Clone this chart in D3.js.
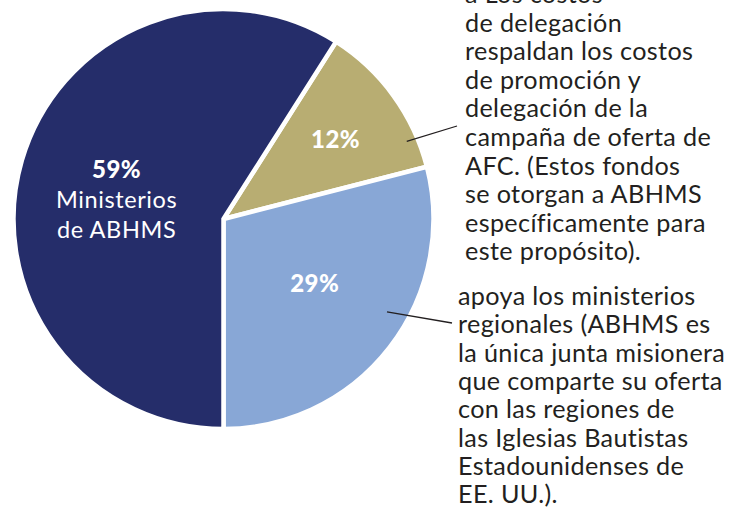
<!DOCTYPE html>
<html>
<head>
<meta charset="utf-8">
<script src="https://cdn.jsdelivr.net/npm/d3@7"></script>
<style>
  html, body { margin: 0; padding: 0; background: #fff; }
  svg { display: block; font-family: Lato, "Noto Sans", sans-serif; }
</style>
</head>
<body>
<div id="chart"></div>
<script>
// Slice data, clockwise from the tan slice
const sliceNames = ['promocion', 'regiones', 'ministerios'];
const sliceValues = [12, 29, 59];
const sliceColors = ['#b8ad72', '#88a7d6', '#252d6a'];
const sliceLabels = ['12%', '29%', '59%'];
const sliceSubLabels = [[], [], ['Ministerios', 'de ABHMS']];

// Callout text
const noteTop = [
  'a Los costos',
  'de delegación',
  'respaldan los costos',
  'de promoción y',
  'delegación de la',
  'campaña de oferta de',
  'AFC. (Estos fondos',
  'se otorgan a ABHMS',
  'específicamente para',
  'este propósito).'
];
const noteBottom = [
  'apoya los ministerios',
  'regionales (ABHMS es',
  'la única junta misionera',
  'que comparte su oferta',
  'con las regiones de',
  'las Iglesias Bautistas',
  'Estadounidenses de',
  'EE. UU.).'
];

const width = 742, height = 508;
const cx = 223.5, cy = 219, radius = 210;

const svg = d3.select('#chart').append('svg')
  .attr('width', width)
  .attr('height', height);

svg.append('rect').attr('width', width).attr('height', height).attr('fill', '#fff');

// blue slice ends straight down, so start is offset by the first two shares
const total = d3.sum(sliceValues);
const start = Math.PI - 2 * Math.PI * (sliceValues[0] + sliceValues[1]) / total;

const pie = d3.pie()
  .sort(null)
  .startAngle(start)
  .endAngle(start + 2 * Math.PI);

const arcs = pie(sliceValues);
const arc = d3.arc().innerRadius(0).outerRadius(radius);

const g = svg.append('g').attr('transform', `translate(${cx},${cy})`);

g.selectAll('path.slice')
  .data(arcs)
  .join('path')
  .attr('class', 'slice')
  .attr('d', arc)
  .attr('fill', (d, i) => sliceColors[i])
  .attr('stroke', '#fff')
  .attr('stroke-width', 4.5)
  .attr('stroke-linejoin', 'miter');

// label radius as a share of the pie radius, per slice
const labelFactor = [0.66, 0.55, 0.53];
const labelShift = [2, -6, -18];

arcs.forEach((d, i) => {
  const mid = (d.startAngle + d.endAngle) / 2;
  const [lx, ly] = d3.pointRadial(mid, radius * labelFactor[i]);
  const t = g.append('text')
    .attr('x', lx)
    .attr('y', ly + labelShift[i])
    .attr('text-anchor', 'middle')
    .attr('fill', '#fff');
  t.append('tspan')
    .attr('x', lx)
    .attr('dy', '0.35em')
    .attr('font-weight', 900)
    .attr('font-size', 24)
    .attr('letter-spacing', 0.5)
    .text(sliceLabels[i]);
  sliceSubLabels[i].forEach(s => {
    t.append('tspan')
      .attr('x', lx)
      .attr('dy', 30)
      .attr('font-size', 23.5)
      .attr('letter-spacing', 0.6)
      .text(s);
  });
});

// callout blocks
function textBlock(lines, x, y0, lh) {
  svg.append('text')
    .attr('fill', '#231f20')
    .attr('font-size', 25.2)
    .attr('letter-spacing', 0.35)
    .selectAll('tspan')
    .data(lines)
    .join('tspan')
    .attr('x', x)
    .attr('y', (d, i) => y0 + i * lh)
    .text(d => d);
}
textBlock(noteTop, 465, 3, 28.6);
textBlock(noteBottom, 458, 305, 28.3);

// leader lines from inside the slice to the text
const leaders = [
  { slice: 0, angle: 1.17, r: 199, to: [457, 126] },
  { slice: 1, angle: 2.087, r: 188, to: [452, 323] }
];
leaders.forEach(l => {
  const [px, py] = d3.pointRadial(l.angle, l.r);
  svg.append('line')
    .attr('x1', cx + px).attr('y1', cy + py)
    .attr('x2', l.to[0]).attr('y2', l.to[1])
    .attr('stroke', '#231f20')
    .attr('stroke-width', 1.3);
});
</script>
</body>
</html>
